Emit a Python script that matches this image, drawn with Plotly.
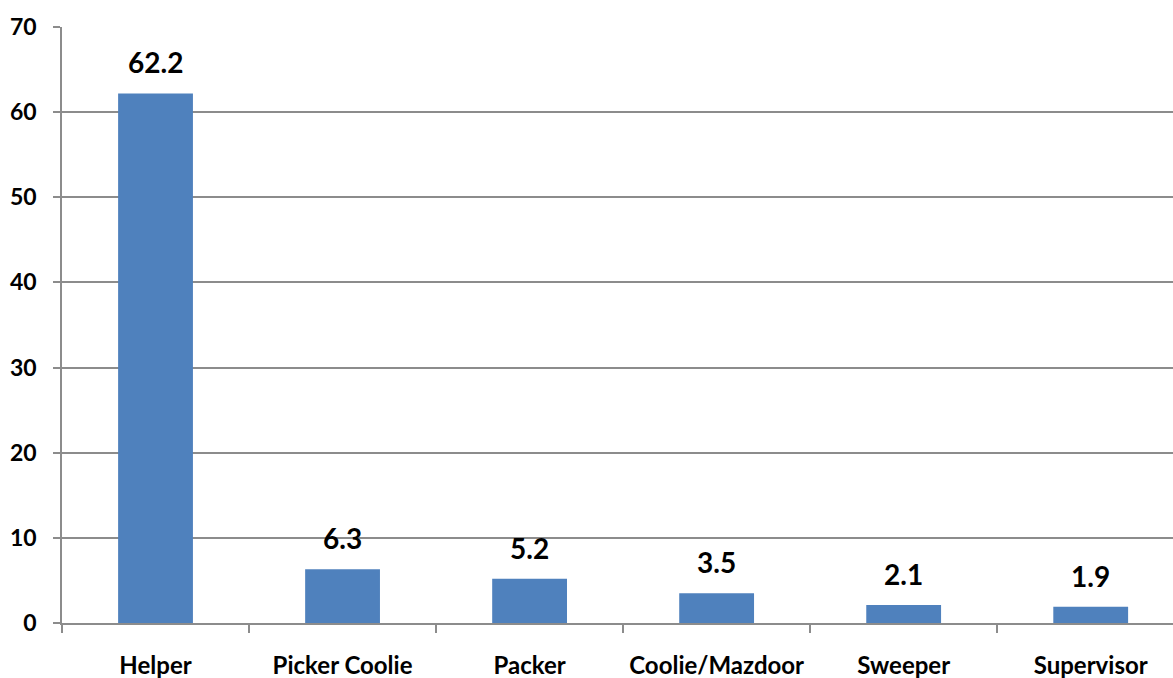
import plotly.graph_objects as go

categories = ["Helper", "Picker Coolie", "Packer", "Coolie/Mazdoor", "Sweeper", "Supervisor"]
values = [62.2, 6.3, 5.2, 3.5, 2.1, 1.9]
y_ticks = [0, 10, 20, 30, 40, 50, 60, 70]

FONT = "Lato, Calibri, Carlito, sans-serif"
BAR = "#4F81BD"
GRID = "#8C8C8C"

fig = go.Figure(
    go.Bar(
        x=categories,
        y=values,
        marker=dict(color=BAR, line=dict(width=0)),
        width=0.4,
        hoverinfo="x+y",
    )
)

# value labels above each bar
for c, v in zip(categories, values):
    fig.add_annotation(
        x=c, y=v, text=f"<b>{v}</b>", showarrow=False,
        yanchor="bottom", yshift=12,
        font=dict(family=FONT, size=28, color="black"),
    )

fig.update_layout(
    width=1173, height=678,
    margin=dict(l=62, r=0, t=27, b=55),
    paper_bgcolor="white", plot_bgcolor="white",
    showlegend=False,
    font=dict(family=FONT, color="black"),
)

fig.update_xaxes(
    type="category",
    range=[-0.5, 5.44],
    showline=True, linecolor=GRID, linewidth=1.5,
    ticks="outside", tickson="boundaries", ticklen=8, tickcolor=GRID, tickwidth=1.5,
    tickfont=dict(family=FONT, size=24, color="black", weight="bold"),
    ticklabelstandoff=20,
    showgrid=False,
)

fig.update_yaxes(
    range=[0, 70],
    tickvals=y_ticks,
    ticktext=[f"<b>{t}</b>" for t in y_ticks],
    showline=True, linecolor=GRID, linewidth=1.5,
    ticks="outside", ticklen=7, tickcolor=GRID, tickwidth=1.5,
    tickfont=dict(family=FONT, size=23, color="black"),
    ticklabelstandoff=12,
    showgrid=True, gridcolor=GRID, gridwidth=1.5,
    zeroline=False,
)

fig.write_html("out.html")
